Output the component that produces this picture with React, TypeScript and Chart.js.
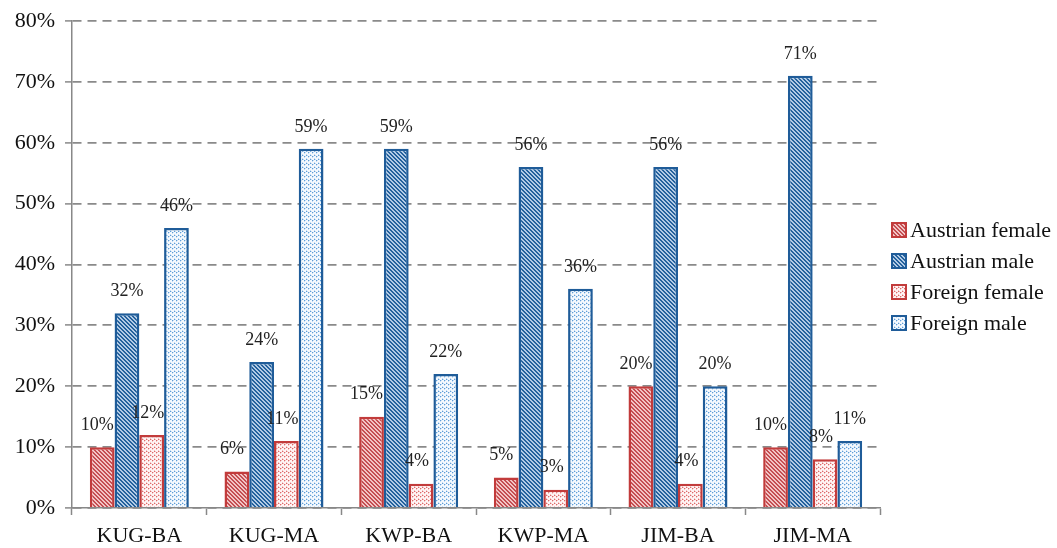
import React, { useEffect, useRef } from "react";
import { Chart, registerables } from "chart.js";

Chart.register(...registerables);

const categories = ["KUG-BA", "KUG-MA", "KWP-BA", "KWP-MA", "JIM-BA", "JIM-MA"];
const austrianFemale = [10, 6, 15, 5, 20, 10];
const austrianMale = [32, 24, 59, 56, 56, 71];
const foreignFemale = [12, 11, 4, 3, 4, 8];
const foreignMale = [46, 59, 22, 36, 20, 11];
const seriesNames = ["Austrian female", "Austrian male", "Foreign female", "Foreign male"];
const yTicks = [0, 10, 20, 30, 40, 50, 60, 70, 80];

const FONT = '"Liberation Serif", "Times New Roman", serif';
const RED = "#C23B3B";
const BLUE = "#1F5C99";

function makeStripe(fg: string, bg: string): CanvasPattern {
  const c = document.createElement("canvas");
  c.width = 4;
  c.height = 4;
  const ctx = c.getContext("2d")!;
  ctx.fillStyle = bg;
  ctx.fillRect(0, 0, 4, 4);
  ctx.fillStyle = fg;
  for (let y = 0; y < 4; y++) {
    for (let x = 0; x < 4; x++) {
      const d = (((x - y) % 4) + 4) % 4;
      if (d < 2) ctx.fillRect(x, y, 1, 1);
    }
  }
  return ctx.createPattern(c, "repeat")!;
}

function makeDots(dot: string, halo: string, bg: string): CanvasPattern {
  const c = document.createElement("canvas");
  c.width = 4;
  c.height = 4;
  const ctx = c.getContext("2d")!;
  ctx.fillStyle = bg;
  ctx.fillRect(0, 0, 4, 4);
  ctx.fillStyle = halo;
  ctx.fillRect(1, 0, 1, 1);
  ctx.fillRect(0, 1, 1, 1);
  ctx.fillRect(2, 2, 1, 1);
  ctx.fillRect(3, 3, 1, 1);
  ctx.fillStyle = dot;
  ctx.fillRect(0, 0, 1, 1);
  ctx.fillRect(2, 3, 1, 1);
  return ctx.createPattern(c, "repeat")!;
}

export default function App() {
  const ref = useRef<HTMLCanvasElement>(null);

  useEffect(() => {
    const canvas = ref.current;
    if (!canvas) return;
    const fills = [
      makeStripe("#C44E52", "#F3C4C4"),
      makeStripe("#24619C", "#B2CBE6"),
      makeDots("#DE6A6A", "#F3C4C4", "#FFF4F4"),
      makeDots("#5E9ED8", "#C6DCF2", "#F4F9FE"),
    ];
    const borders = [RED, BLUE, RED, BLUE];
    const values = [austrianFemale, austrianMale, foreignFemale, foreignMale];
    const labelDx = [-5, 0, -4, 0];

    const dataLabels = {
      id: "dataLabels",
      afterDatasetsDraw(chart: any) {
        const ctx = chart.ctx;
        ctx.save();
        ctx.font = `18px ${FONT}`;
        ctx.fillStyle = "#222";
        ctx.textAlign = "center";
        ctx.textBaseline = "middle";
        chart.data.datasets.forEach((ds: any, di: number) => {
          const meta = chart.getDatasetMeta(di);
          meta.data.forEach((bar: any, i: number) => {
            ctx.fillText(ds.data[i] + "%", bar.x + labelDx[di], bar.y - 22);
          });
        });
        ctx.restore();
      },
    };

    const legendPlugin = {
      id: "customLegend",
      afterDraw(chart: any) {
        const ctx = chart.ctx;
        ctx.save();
        ctx.font = `22px ${FONT}`;
        ctx.textBaseline = "middle";
        ctx.textAlign = "left";
        const rows = [230, 261, 292, 323];
        seriesNames.forEach((name, i) => {
          const y = rows[i];
          ctx.fillStyle = fills[i];
          ctx.fillRect(892, y - 7, 14, 14);
          ctx.strokeStyle = borders[i];
          ctx.lineWidth = 2;
          ctx.strokeRect(892, y - 7, 14, 14);
          ctx.fillStyle = "#111";
          ctx.fillText(name, 910, y + 1);
        });
        ctx.restore();
      },
    };

    const chart = new Chart(canvas, {
      type: "bar",
      data: {
        labels: categories,
        datasets: seriesNames.map((name, i) => ({
          label: name,
          data: values[i],
          backgroundColor: fills[i],
          borderColor: borders[i],
          borderWidth: 2.5,
          categoryPercentage: 0.735,
          barPercentage: 1,
        })),
      },
      options: {
        animation: false,
        responsive: false,
        maintainAspectRatio: false,
        layout: { padding: { left: 0, right: 177, top: 20, bottom: 0 } },
        plugins: {
          legend: { display: false },
          tooltip: { enabled: false },
        },
        scales: {
          x: {
            offset: true,
            grid: {
              offset: true,
              drawOnChartArea: false,
              drawTicks: true,
              tickLength: 7,
              tickColor: "#888",
              tickWidth: 1.5,
            },
            border: { color: "#888", width: 1.5 },
            ticks: {
              font: { family: FONT, size: 22 },
              color: "#111",
              padding: 8,
            },
            afterFit(scale: any) {
              scale.height = 40;
            },
          },
          y: {
            min: 0,
            max: 80,
            afterBuildTicks(scale: any) {
              scale.ticks = yTicks.map((v) => ({ value: v }));
            },
            grid: {
              color: "#8a8a8a",
              lineWidth: 1.8,
              tickBorderDash: [],
              tickColor: "#888",
              tickLength: 7,
              tickWidth: 1.5,
            },
            border: { color: "#888", width: 1.5, dash: [9, 6] },
            ticks: {
              font: { family: FONT, size: 22, lineHeight: 1 },
              color: "#111",
              padding: 10,
              callback: (v: any) => v + "%",
            },
            afterFit(scale: any) {
              scale.width = 72;
            },
          },
        },
      },
      plugins: [dataLabels, legendPlugin],
    });
    return () => chart.destroy();
  }, []);

  return (
    <div style={{ position: "fixed", left: 0, top: 0, width: 1057, height: 548, background: "#fff" }}>
      <canvas ref={ref} width={1057} height={548} style={{ display: "block" }} />
    </div>
  );
}
